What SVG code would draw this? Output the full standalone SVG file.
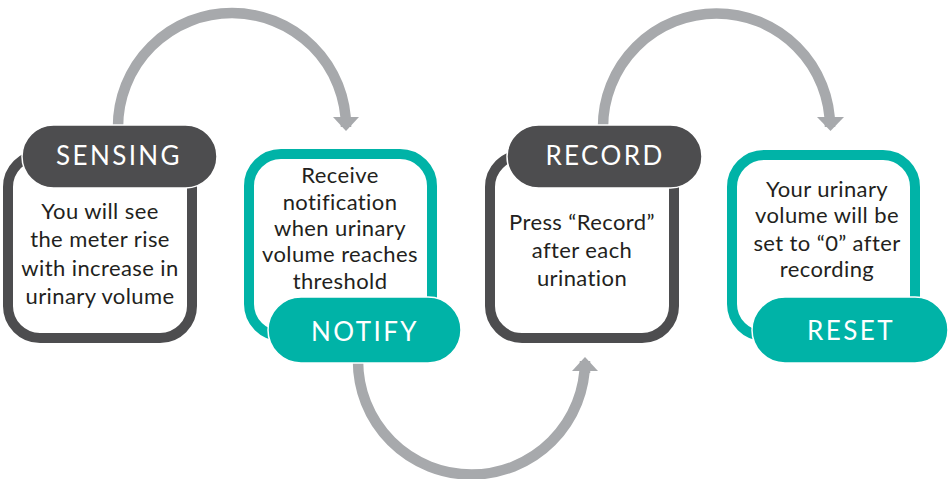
<svg xmlns="http://www.w3.org/2000/svg" width="951" height="479" viewBox="0 0 951 479">
<style>
.bg{fill:#ffffff}
.conn{fill:none;stroke:#a7a9ac;stroke-width:10.5}
.head{fill:#a7a9ac}
.boxd{fill:#ffffff;stroke:#4d4d4f;stroke-width:10}
.boxt{fill:#ffffff;stroke:#00b3a7;stroke-width:10}
.pilld{fill:#4d4d4f;stroke:#ffffff;stroke-width:1.5}
.pillt{fill:#00b3a7;stroke:#ffffff;stroke-width:1.5}
.lbl{font-family:Lato,"Open Sans","Liberation Sans",sans-serif;font-size:26px;letter-spacing:2.4px;fill:#ffffff;text-anchor:middle}
.body{font-family:Lato,"Open Sans","Liberation Sans",sans-serif;font-size:22px;letter-spacing:0.4px;fill:#231f20;text-anchor:middle}
</style>
<rect class="bg" x="0" y="0" width="951" height="479"/>
<g id="connectors">
<path class="conn" d="M118,140 L118,127 A114,114 0 0 1 346,127 L346,119"/>
<polygon class="head" points="333,117 359,117 346,131"/>
<path class="conn" d="M603,140 L603,127 A113.5,113.5 0 0 1 830,127 L830,119"/>
<polygon class="head" points="817,117 844,117 830.5,131"/>
<path class="conn" d="M358,350 L358,361 A113.5,113.5 0 0 0 585,361 L585,373"/>
<polygon class="head" points="572,371 598,371 585,357"/>
</g>
<g id="sensing">
<rect class="boxd" x="8" y="155" width="184" height="183" rx="32"/>
<rect class="pilld" x="22" y="125" width="195" height="63" rx="31.5"/>
<text class="lbl" x="119" y="165">SENSING</text>
<text class="body"><tspan x="100" y="219">You will see</tspan><tspan x="100" y="247">the meter rise</tspan><tspan x="100" y="276">with increase in</tspan><tspan x="100" y="304">urinary volume</tspan></text>
</g>
<g id="notify">
<rect class="boxt" x="249" y="154" width="183" height="182" rx="32"/>
<rect class="pillt" x="268" y="297" width="193" height="66" rx="33"/>
<text class="lbl" x="365" y="341">NOTIFY</text>
<text class="body"><tspan x="340" y="183">Receive</tspan><tspan x="340" y="210">notification</tspan><tspan x="340" y="236">when urinary</tspan><tspan x="340" y="262">volume reaches</tspan><tspan x="340" y="289">threshold</tspan></text>
</g>
<g id="record">
<rect class="boxd" x="490" y="155" width="184" height="183" rx="32"/>
<rect class="pilld" x="507" y="125" width="195" height="63" rx="31.5"/>
<text class="lbl" x="605" y="165">RECORD</text>
<text class="body"><tspan x="582" y="230">Press “Record”</tspan><tspan x="582" y="258">after each</tspan><tspan x="582" y="286">urination</tspan></text>
</g>
<g id="reset">
<rect class="boxt" x="732" y="155" width="183" height="181" rx="32"/>
<rect class="pillt" x="752" y="297" width="196" height="66" rx="33"/>
<text class="lbl" x="851" y="340">RESET</text>
<text class="body"><tspan x="827" y="197">Your urinary</tspan><tspan x="827" y="223">volume will be</tspan><tspan x="827" y="251">set to “0” after</tspan><tspan x="827" y="277">recording</tspan></text>
</g>
</svg>
